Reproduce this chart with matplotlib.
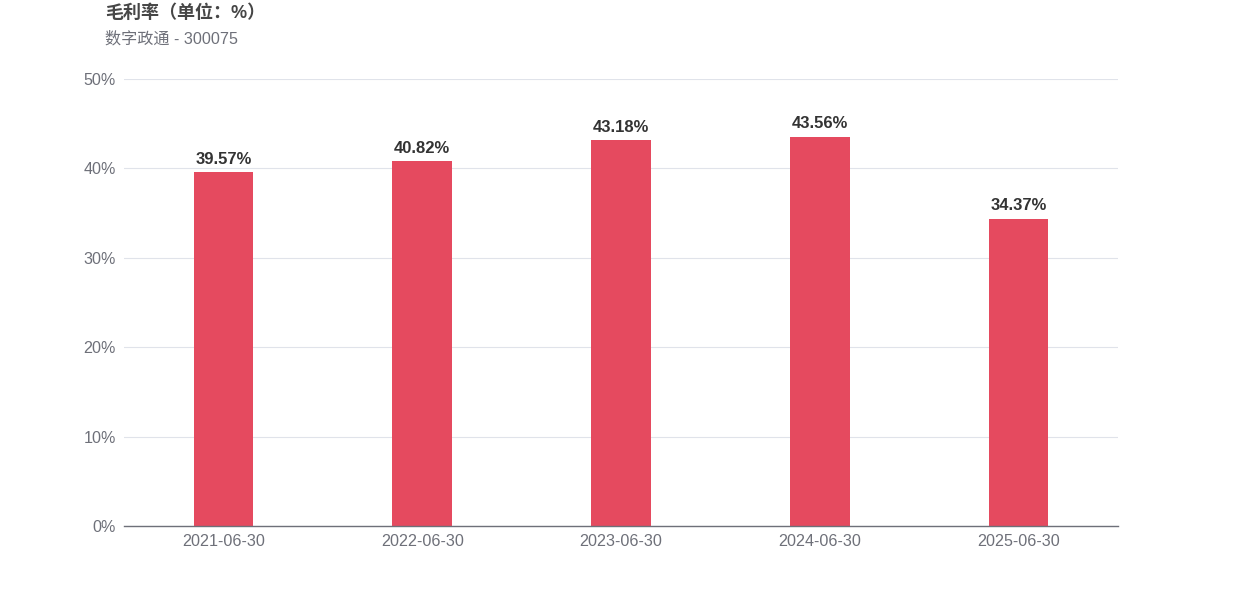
import matplotlib
matplotlib.use("Agg")
import matplotlib.pyplot as plt
import numpy as np

plt.rcParams['font.family'] = ['Liberation Sans', 'Noto Sans CJK SC', 'DejaVu Sans']

# data
categories = ["2021-06-30", "2022-06-30", "2023-06-30", "2024-06-30", "2025-06-30"]
gross_margin = [39.57, 40.82, 43.18, 43.56, 34.37]
y_ticks = [0, 10, 20, 30, 40, 50]

title = "毛利率（单位：%）"
subtitle = "数字政通 - 300075"

W, H = 1242, 596
fig = plt.figure(figsize=(W / 100, H / 100), dpi=100)
ax = fig.add_axes([124 / W, 1 - 526 / H, (1118 - 124) / W, (526 - 79) / H])

x = np.arange(len(categories))
ax.bar(x, gross_margin, width=0.3, color="#e54a5f", zorder=2)

# value labels above bars
for xi, v in zip(x, gross_margin):
    ax.text(xi, v + 0.6, f"{v:.2f}%", ha="center", va="bottom",
            fontsize=12, fontweight="bold", color="#333333")

ax.set_xlim(-0.5, len(categories) - 0.5)
ax.set_ylim(0, 50)
ax.set_yticks(y_ticks)
ax.set_yticklabels([f"{t}%" for t in y_ticks])
ax.set_xticks(x)
ax.set_xticklabels(categories)
ax.grid(axis="y", color="#e0e3ea", linewidth=0.8, zorder=0)
ax.tick_params(axis="both", length=0, labelsize=11.6, labelcolor="#6e7079")
ax.tick_params(axis="y", pad=6)
ax.tick_params(axis="x", pad=6)

for s in ["top", "right", "left"]:
    ax.spines[s].set_visible(False)
ax.spines["bottom"].set_color("#6e7079")
ax.spines["bottom"].set_linewidth(1)

fig.text(105 / W, 1 - 13 / H, title, ha="left", va="center",
         fontsize=13, fontweight="bold", color="#464646")
fig.text(105 / W, 1 - 39 / H, subtitle, ha="left", va="center",
         fontsize=11.6, color="#6e7079")

fig.savefig("out.png", dpi=100)
